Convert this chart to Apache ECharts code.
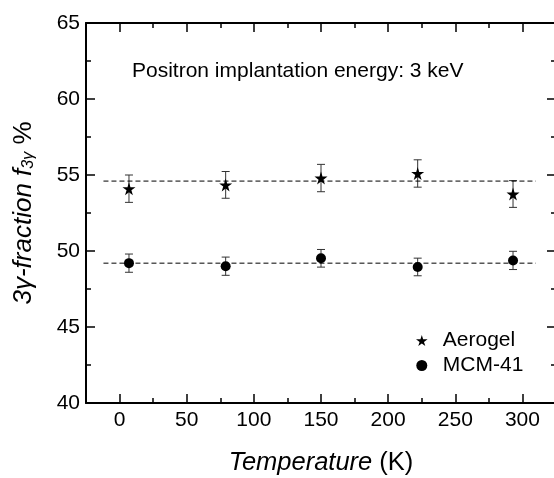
<!DOCTYPE html>
<html>
<head>
<meta charset="utf-8">
<script src="https://cdn.jsdelivr.net/npm/echarts@6/dist/echarts.min.js"></script>
<style>
  html, body { margin: 0; padding: 0; background: #fff; }
  #chart_1 { width: 554px; height: 478px; }
</style>
</head>
<body>
<div id="chart_1"></div>
<script>
// 数据
var temps = [7, 79, 150, 222, 293];
var aerogelVals = [54.1, 54.35, 54.8, 55.1, 53.75];
var aerogelErr = [0.9, 0.88, 0.9, 0.9, 0.88];
var mcmVals = [49.2, 49.0, 49.52, 48.95, 49.38];
var mcmErr = [0.6, 0.6, 0.58, 0.58, 0.6];
var aerogelMean = 54.6;
var mcmMean = 49.2;
var meanRange = [-12, 310];
var xMajor = [0, 50, 100, 150, 200, 250, 300];
var xMinor = [-25, 25, 75, 125, 175, 225, 275, 325];

var FONT = '"Liberation Sans", Arial, Helvetica, sans-serif';
var STAR = 'path://M50,0 L61,35 L98,35 L68,57 L79,91 L50,70 L21,91 L32,57 L2,35 L39,35 Z';

function pairs(xs, ys, es) {
    var out = [];
    for (var i = 0; i < xs.length; i++) {
        out.push(es ? [xs[i], ys[i], es[i]] : [xs[i], ys[i]]);
    }
    return out;
}

function meanLine(v) {
    return [[meanRange[0], v], [meanRange[1], v]];
}

// 误差棒
function renderErr(params, api) {
    var x = api.value(0), y = api.value(1), e = api.value(2);
    var hi = api.coord([x, y + e]);
    var lo = api.coord([x, y - e]);
    var w = 4;
    var st = { stroke: '#333', lineWidth: 1 };
    return {
        type: 'group',
        children: [
            { type: 'line', shape: { x1: hi[0], y1: hi[1], x2: lo[0], y2: lo[1] }, style: st },
            { type: 'line', shape: { x1: hi[0] - w, y1: hi[1], x2: hi[0] + w, y2: hi[1] }, style: st },
            { type: 'line', shape: { x1: lo[0] - w, y1: lo[1], x2: lo[0] + w, y2: lo[1] }, style: st }
        ]
    };
}

function xAx(pos, ticks, len, showLine, showLabel) {
    return {
        type: 'value', position: pos, min: -25, max: 325,
        axisLine: { show: showLine, onZero: false, lineStyle: { color: '#000', width: 2 } },
        axisTick: { show: true, inside: true, length: len, customValues: ticks, lineStyle: { color: '#000', width: 1.5 } },
        axisLabel: { show: showLabel, customValues: ticks, margin: 7, color: '#000', fontSize: 21, fontFamily: FONT },
        splitLine: { show: false }
    };
}

function yAx(pos, showLabel) {
    return {
        type: 'value', position: pos, min: 40, max: 65, interval: 5,
        axisLine: { show: true, onZero: false, lineStyle: { color: '#000', width: 2 } },
        axisTick: { show: true, inside: true, length: 9, lineStyle: { color: '#000', width: 1.5 } },
        minorTick: { show: true, splitNumber: 2, length: 5, lineStyle: { color: '#000', width: 1.5 } },
        axisLabel: { show: showLabel, margin: 6, color: '#000', fontSize: 21, fontFamily: FONT },
        splitLine: { show: false },
        minorSplitLine: { show: false }
    };
}

var myChart1 = echarts.init(document.getElementById('chart_1'));

var xBottom = xAx('bottom', xMajor, 9, true, true);
xBottom.name = '{i|Temperature}{n| (K)}';
xBottom.nameLocation = 'middle';
xBottom.nameGap = 47;
xBottom.nameTextStyle = {
    color: '#000', fontFamily: FONT,
    rich: {
        i: { fontSize: 25.5, fontStyle: 'italic', fontFamily: FONT, color: '#000' },
        n: { fontSize: 25.5, fontFamily: FONT, color: '#000' }
    }
};

var yLeft = yAx('left', true);
yLeft.name = '{i|3\u03b3-fraction f}{s|3\u03b3}{n| %}';
yLeft.nameLocation = 'middle';
yLeft.nameGap = 49;
yLeft.nameTextStyle = {
    color: '#000', fontFamily: FONT,
    rich: {
        i: { fontSize: 26, fontStyle: 'italic', fontFamily: FONT, color: '#000' },
        s: { fontSize: 16, fontStyle: 'italic', fontFamily: FONT, color: '#000', verticalAlign: 'bottom' },
        n: { fontSize: 26, fontFamily: FONT, color: '#000' }
    }
};

var option = {
    animation: false,
    backgroundColor: '#fff',
    title: {
        text: 'Positron implantation energy: 3 keV',
        left: 132, top: 61, padding: 0,
        textStyle: { fontSize: 21, fontWeight: 'normal', color: '#000', fontFamily: FONT }
    },
    legend: {
        orient: 'vertical',
        left: 416, top: 330, padding: 0,
        itemWidth: 32, itemHeight: 11, itemGap: 4,
        textStyle: { fontSize: 21, color: '#000', fontFamily: FONT, padding: 0 },
        data: [
            { name: 'Aerogel', icon: STAR },
            { name: 'MCM-41', icon: 'circle' }
        ]
    },
    grid: { left: 86, width: 470, top: 23, bottom: 75, containLabel: false, outerBoundsMode: 'none' },
    xAxis: [
        xBottom,
        xAx('bottom', xMinor, 5, false, false),
        xAx('top', xMajor, 9, true, false),
        xAx('top', xMinor, 5, false, false)
    ],
    yAxis: [yLeft, yAx('right', false)],
    series: [
        {
            name: 'aerogelMean', type: 'line', data: meanLine(aerogelMean),
            symbol: 'none', silent: true,
            lineStyle: { color: '#000', width: 1, type: [5, 3] }
        },
        {
            name: 'mcmMean', type: 'line', data: meanLine(mcmMean),
            symbol: 'none', silent: true,
            lineStyle: { color: '#000', width: 1, type: [5, 3] }
        },
        {
            name: 'aerogelErr', type: 'custom', renderItem: renderErr,
            data: pairs(temps, aerogelVals, aerogelErr), z: 3
        },
        {
            name: 'mcmErr', type: 'custom', renderItem: renderErr,
            data: pairs(temps, mcmVals, mcmErr), z: 3
        },
        {
            name: 'Aerogel', type: 'scatter', symbol: STAR, symbolSize: 13,
            data: pairs(temps, aerogelVals), z: 5,
            itemStyle: { color: '#000', opacity: 1 }
        },
        {
            name: 'MCM-41', type: 'scatter', symbol: 'circle', symbolSize: 10,
            data: pairs(temps, mcmVals), z: 5,
            itemStyle: { color: '#000', opacity: 1 }
        }
    ]
};
myChart1.setOption(option);
</script>
</body>
</html>
